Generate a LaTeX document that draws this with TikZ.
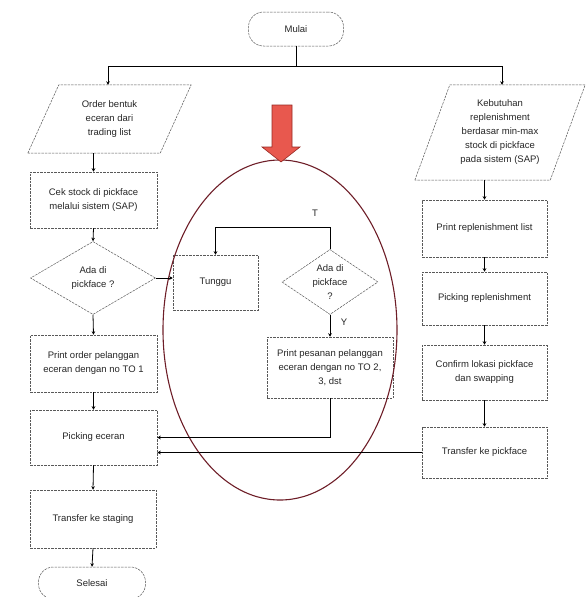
\documentclass[tikz,border=0pt]{standalone}
\usepackage{fontspec}
\setmainfont{Liberation Sans}
\usetikzlibrary{shapes.geometric,arrows.meta,calc}
\definecolor{ellcol}{RGB}{110,30,40}
\definecolor{arrfill}{RGB}{232,88,78}
\definecolor{arrdraw}{RGB}{150,40,35}
\begin{document}
\begin{tikzpicture}[x=1pt,y=-1pt,
  every node/.style={font=\fontsize{9.5}{14}\selectfont, align=center, inner sep=1pt, text=black!85},
  shp/.style={draw=black!65, line width=0.5pt, dash pattern=on 2.5pt off 1pt},
  procbox/.style={shp, rectangle},
  terminal/.style={shp, rectangle, rounded corners=15pt},
  decision/.style={shp, diamond, inner sep=0pt},
  iobox/.style={rectangle, draw=none},
  conn/.style={draw=black, line width=0.8pt},
  arr/.style={conn, -{Stealth[length=3.5pt,width=3.5pt]}}
]
\useasboundingbox (0,0) rectangle (588,597);

% ---------- nodes ----------
\node[terminal, minimum width=95pt, minimum height=34pt] (mulai) at (296,29) {Mulai};

% left column
\node[iobox, minimum width=163pt, minimum height=68pt] (order) at (109.5,119) {Order bentuk\\eceran dari\\trading list};
\draw[shp] (order.south west) -- ($(order.north west)+(31,0)$) -- (order.north east) -- ($(order.south east)+(-31,0)$) -- cycle;
\node[procbox, minimum width=127pt, minimum height=56pt] (cek) at (93.5,200) {Cek stock di pickface\\melalui sistem (SAP)};
\node[decision, minimum width=125pt, minimum height=73pt,
      label={[align=center]center:Ada di\\pickface ?}] (ada1) at (93,278) {};
\node[procbox, minimum width=127pt, minimum height=57pt] (porder) at (93.5,363.5) {Print order pelanggan\\eceran dengan no TO 1};
\node[procbox, minimum width=127pt, minimum height=55pt] (picking) at (93.5,437.5) {Picking eceran};
\node[procbox, minimum width=126pt, minimum height=58pt] (staging) at (93,519) {Transfer ke staging};
\node[terminal, minimum width=107pt, minimum height=32pt] (selesai) at (92,583) {Selesai};

% middle
\node[procbox, minimum width=85pt, minimum height=55pt] (tunggu) at (215.5,282.5) {Tunggu};
\node[decision, minimum width=96pt, minimum height=65pt,
      label={[align=center]center:Ada di\\pickface\\?}] (ada2) at (330,282) {};
\node[procbox, minimum width=126pt, minimum height=61pt] (ppes) at (330,367.5) {Print pesanan pelanggan\\eceran dengan no TO 2,\\3, dst};
\node (tlab) at (315,213) {T};
\node (ylab) at (344,322) {Y};

% right column
\node[iobox, minimum width=170pt, minimum height=95pt] (keb) at (500,132.5) {Kebutuhan\\replenishment\\berdasar min-max\\stock di pickface\\pada sistem (SAP)};
\draw[shp] (keb.south west) -- ($(keb.north west)+(35,0)$) -- (keb.north east) -- ($(keb.south east)+(-35,0)$) -- cycle;
\node[procbox, minimum width=125pt, minimum height=57pt] (prep) at (484.5,228.5) {Print replenishment list};
\node[procbox, minimum width=125pt, minimum height=53pt] (pickrep) at (484.5,298.5) {Picking replenishment};
\node[procbox, minimum width=125pt, minimum height=55pt] (confirm) at (484.5,372.5) {Confirm lokasi pickface\\dan swapping};
\node[procbox, minimum width=125pt, minimum height=51pt] (tpf) at (484.5,452.5) {Transfer ke pickface};

% ---------- highlight ----------
\draw[ellcol, line width=1.1pt] (280,330) ellipse [x radius=117, y radius=170];
\draw[arrdraw, fill=arrfill, line width=0.6pt] (272,105) -- (292,105) -- (292,147) -- (300,147) -- (281,162) -- (262,147) -- (272,147) -- cycle;

% ---------- connectors ----------
\coordinate (jl) at (108,66);
\coordinate (jr) at (502,66);
\coordinate (tl) at (0,227);
\draw[arr] (mulai.south) |- (jl) -- (jl |- order.north);
\draw[arr] (mulai.south) |- (jr) -- (jr |- keb.north);

\draw[arr] (cek.north |- order.south) -- (cek.north);
\draw[arr] (cek.south) -- (ada1.north);
\draw[arr] (ada1.south) -- (porder.north);
\draw[arr] (porder.south) -- (picking.north);
\draw[arr] (picking.south) -- (staging.north);
\draw[arr] (staging.south) -- (selesai.north);

\draw[arr] (ada1.east) -- (ada1.east -| tunggu.west);
\draw[arr] (ada2.north) -- (ada2.north |- tl) -| (tunggu.north);
\draw[arr] (ada2.south) -- (ppes.north);
\draw[arr] (ppes.south) |- (picking.east);
\draw[arr] (tpf.west) -- (picking.east |- tpf.west);

\draw[arr] (prep.north |- keb.south) -- (prep.north);
\draw[arr] (prep.south) -- (pickrep.north);
\draw[arr] (pickrep.south) -- (confirm.north);
\draw[arr] (confirm.south) -- (tpf.north);
\end{tikzpicture}
\end{document}
